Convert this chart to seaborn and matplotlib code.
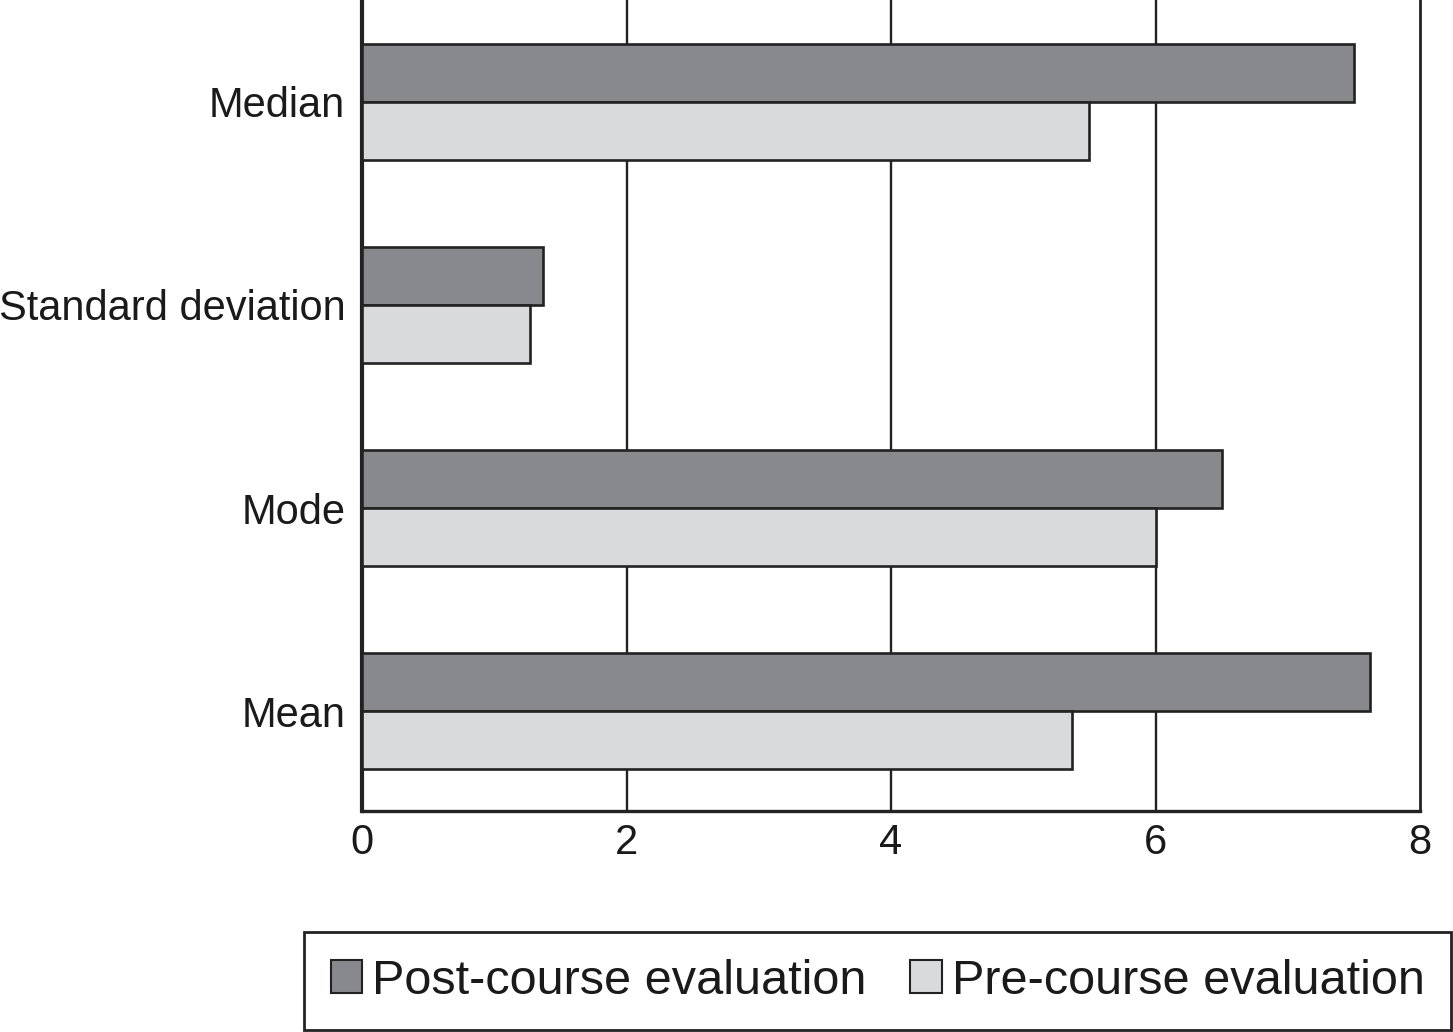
import matplotlib
matplotlib.use("Agg")
import matplotlib.pyplot as plt
import seaborn as sns
import pandas as pd

categories = ["Median", "Standard deviation", "Mode", "Mean"]
post_course = [7.5, 1.37, 6.5, 7.62]
pre_course = [5.5, 1.27, 6.0, 5.37]
series_names = ["Post-course evaluation", "Pre-course evaluation"]
x_ticks = [0, 2, 4, 6, 8]

df = pd.DataFrame({
    "category": categories * 2,
    "value": post_course + pre_course,
    "series": [series_names[0]] * len(categories) + [series_names[1]] * len(categories),
})

sns.set_style("white")
plt.rcParams["font.family"] = ["Liberation Sans", "DejaVu Sans"]

fig = plt.figure(figsize=(14.53, 10.32), dpi=100)
ax = fig.add_axes([362 / 1453, 1 - 811 / 1032, (1420 - 362) / 1453, 811 / 1032])

palette = {series_names[0]: "#88898d", series_names[1]: "#d9dadc"}
sns.barplot(data=df, y="category", x="value", hue="series", order=categories,
            hue_order=series_names, palette=palette, width=0.57, orient="h",
            edgecolor="#222222", linewidth=1.9, saturation=1, ax=ax, zorder=3)

ax.set_xlim(0, 8)
ax.set_ylim(3.49, -0.5)
ax.set_xticks(x_ticks)
ax.set_xticklabels([str(t) for t in x_ticks])
ax.set_xlabel("")
ax.set_ylabel("")
for g in x_ticks[1:-1]:
    ax.axvline(g, color="#222222", linewidth=1.7, zorder=1)

ax.tick_params(axis="y", length=0, pad=12, labelsize=30, colors="#1a1a1a")
ax.tick_params(axis="x", length=0, pad=9, labelsize=30, colors="#1a1a1a")

ax.spines["top"].set_visible(False)
for side, lw in [("left", 3.0), ("bottom", 2.4), ("right", 2.0)]:
    ax.spines[side].set_visible(True)
    ax.spines[side].set_color("#222222")
    ax.spines[side].set_linewidth(lw)

ax.legend_.remove()
handles = [plt.Rectangle((0, 0), 1, 1, facecolor=palette[s], edgecolor="#222222", linewidth=1.5)
           for s in series_names]
leg = fig.legend(handles, series_names, loc="center", bbox_to_anchor=(0.604, 0.0494),
                 ncol=2, fontsize=35, frameon=True, fancybox=False,
                 handlelength=0.65, handleheight=0.65, handletextpad=0.2,
                 columnspacing=0.9, borderpad=0.55, borderaxespad=0)
leg.get_frame().set_edgecolor("#222222")
leg.get_frame().set_linewidth(2.0)
leg.get_frame().set_alpha(1)
for t in leg.get_texts():
    t.set_color("#1a1a1a")

fig.savefig("out.png", dpi=100)
